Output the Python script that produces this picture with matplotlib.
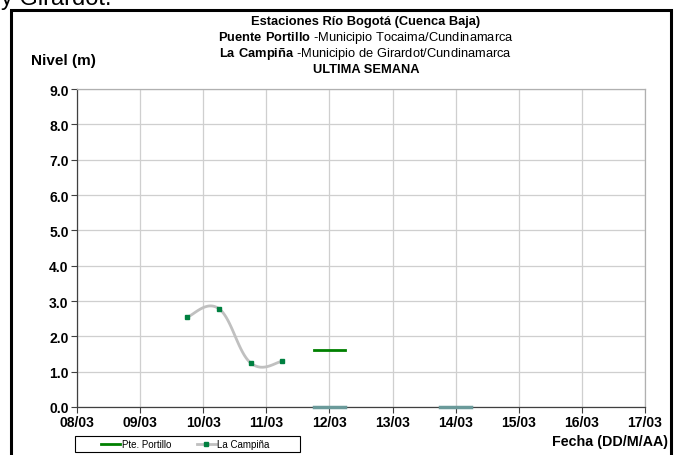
import numpy as np
import matplotlib
matplotlib.use("Agg")
import matplotlib.pyplot as plt
import matplotlib.dates as mdates
from matplotlib.patches import Rectangle
from datetime import datetime

plt.rcParams['font.family'] = ['Liberation Sans', 'DejaVu Sans']
plt.rcParams['mathtext.fontset'] = 'custom'
plt.rcParams['mathtext.rm'] = 'Liberation Sans'
plt.rcParams['mathtext.bf'] = 'Liberation Sans:bold'

# La Campiña (nivel en m)
campina_fechas = ["2013-03-09 18:00", "2013-03-10 06:00", "2013-03-10 18:00", "2013-03-11 06:00"]
campina_nivel = [2.55, 2.78, 1.25, 1.29]

# Pte. Portillo
portillo_fechas = ["2013-03-11 18:00", "2013-03-12 06:00"]
portillo_nivel = [1.6, 1.6]

# registros en cero (sin leyenda)
cero_fechas_a = ["2013-03-11 18:00", "2013-03-12 06:00"]
cero_fechas_b = ["2013-03-13 18:00", "2013-03-14 06:00"]
cero_nivel = [0.0, 0.0]

dias = ["08/03", "09/03", "10/03", "11/03", "12/03", "13/03", "14/03", "15/03", "16/03", "17/03"]


def fechas(lista):
    return mdates.date2num([datetime.strptime(s, "%Y-%m-%d %H:%M") for s in lista])


def suavizar(x, y, k=0.2, n=40):
    # curva suavizada tipo Excel (bezier por segmentos)
    x = np.asarray(x, float)
    y = np.asarray(y, float)
    px, py = [], []
    m = len(x)
    for i in range(m - 1):
        i0 = max(i - 1, 0)
        i3 = min(i + 2, m - 1)
        c1x = x[i] + (x[i + 1] - x[i0]) * k
        c1y = y[i] + (y[i + 1] - y[i0]) * k
        c2x = x[i + 1] - (x[i3] - x[i]) * k
        c2y = y[i + 1] - (y[i3] - y[i]) * k
        t = np.linspace(0, 1, n)
        a = (1 - t) ** 3
        b = 3 * (1 - t) ** 2 * t
        c = 3 * (1 - t) * t ** 2
        d = t ** 3
        px.extend(a * x[i] + b * c1x + c * c2x + d * x[i + 1])
        py.extend(a * y[i] + b * c1y + c * c2y + d * y[i + 1])
    return px, py


fig = plt.figure(figsize=(6.84, 4.56), dpi=100)
W, H = 684.0, 456.0

# marco exterior
fig.patches.append(Rectangle((11 / W, -0.05), 660 / W, (456 - 11) / H + 0.05,
                             transform=fig.transFigure, fill=False,
                             edgecolor='black', linewidth=2.2, zorder=0))
fig.text(1 / W, 1 - 5 / H, "y Girardot.", fontsize=17, ha='left', va='baseline')

ax = fig.add_axes([77 / W, (456 - 408) / H, 568 / W, 318 / H])

xc = fechas(campina_fechas)
sx, sy = suavizar(xc, campina_nivel)
ax.plot(sx, sy, color='#c0c0c0', linewidth=2, zorder=3)
ax.plot(xc, campina_nivel, linestyle='none', marker='s', markersize=3.2,
        color='#008040', zorder=4)

ax.plot(fechas(portillo_fechas), portillo_nivel, color='#008000', linewidth=2, zorder=4)
ax.plot(fechas(cero_fechas_a), cero_nivel, color='#6a9a9a', linewidth=2.5, zorder=4, clip_on=False)
ax.plot(fechas(cero_fechas_b), cero_nivel, color='#6a9a9a', linewidth=2.5, zorder=4, clip_on=False)

x0 = fechas(["2013-03-08 00:00"])[0]
ticks = x0 + np.arange(len(dias))
ax.set_xlim(ticks[0], ticks[-1])
ax.set_ylim(0, 9)
ax.set_xticks(ticks)
ax.set_xticklabels(dias)
ax.set_yticks(np.arange(0, 9.1, 1.0))
ax.set_yticklabels(["%.1f" % v for v in np.arange(0, 9.1, 1.0)])
ax.grid(True, color='#cfcfcf', linewidth=0.9)
ax.set_axisbelow(True)
ax.tick_params(axis='both', direction='out', length=4, width=0.8, color='#404040',
               labelsize=10, pad=2)
for lab in ax.get_xticklabels() + ax.get_yticklabels():
    lab.set_fontweight('bold')
for s in ['left', 'bottom']:
    ax.spines[s].set_color('#404040')
    ax.spines[s].set_linewidth(0.9)
for s in ['top', 'right']:
    ax.spines[s].set_color('#b0b0b0')
    ax.spines[s].set_linewidth(0.9)

cx = 366 / W
fs = 9.3
fig.text(cx, 1 - 22 / H, "Estaciones Río Bogotá (Cuenca Baja)", ha='center', va='center',
         fontsize=fs, fontweight='bold')
fig.text(cx, 1 - 38 / H, r"$\bf{Puente\ Portillo}$ -Municipio Tocaima/Cundinamarca",
         ha='center', va='center', fontsize=fs)
fig.text(cx, 1 - 54 / H, r"$\bf{La\ Campiña}$ -Municipio de Girardot/Cundinamarca",
         ha='center', va='center', fontsize=fs)
fig.text(cx, 1 - 70 / H, "ULTIMA SEMANA", ha='center', va='center',
         fontsize=fs, fontweight='bold')
fig.text(31 / W, 1 - 61 / H, "Nivel (m)", ha='left', va='center', fontsize=11, fontweight='bold')
fig.text(668 / W, 1 - 442 / H, "Fecha (DD/M/AA)", ha='right', va='center',
         fontsize=10.3, fontweight='bold')

# leyenda: caja aparte y entradas sin marco
fig.patches.append(Rectangle((75 / W, 1 - 453 / H), 225 / W, 16 / H,
                             transform=fig.transFigure, fill=False,
                             edgecolor='black', linewidth=0.8, zorder=1))
h1, = ax.plot([], [], color='#008000', linewidth=2)
h2, = ax.plot([], [], color='#c0c0c0', linewidth=2, marker='s', markersize=3,
              markerfacecolor='#008040', markeredgecolor='#008040')
leg = fig.legend([h1, h2], ["Pte. Portillo", "La Campiña"], loc='center left',
                 bbox_to_anchor=(101 / W, 1 - 445 / H), ncol=2, fontsize=7, frameon=False,
                 handlelength=2.0, borderpad=0, columnspacing=2.6, handletextpad=0.15,
                 borderaxespad=0)

fig.savefig("out.png", dpi=100)
